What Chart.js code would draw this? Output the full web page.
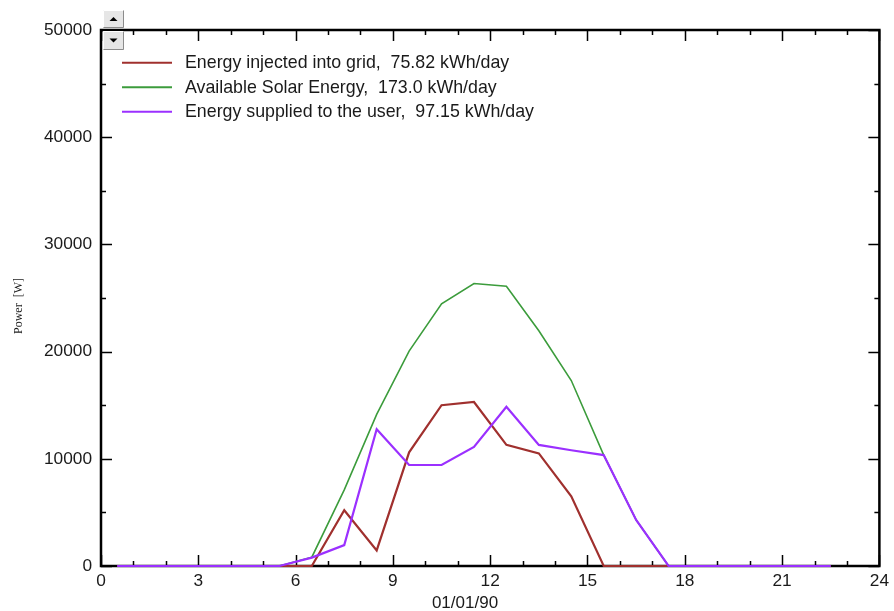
<!DOCTYPE html>
<html>
<head>
<meta charset="utf-8">
<script src="https://cdn.jsdelivr.net/npm/chart.js@4/dist/chart.umd.min.js"></script>
<style>
  html, body { margin: 0; padding: 0; background: #ffffff; }
  #wrap { position: relative; width: 894px; height: 611px; }
</style>
</head>
<body>
<div id="wrap"><canvas id="c" width="894" height="611"></canvas></div>
<script>
// ---- Data ----
const hours = [0.5,1.5,2.5,3.5,4.5,5.5,6.5,7.5,8.5,9.5,10.5,11.5,12.5,13.5,14.5,15.5,16.5,17.5,18.5,19.5,20.5,21.5,22.5];
const gridInjected = [0,0,0,0,0,0,0,5200,1450,10600,15000,15300,11300,10500,6500,0,0,0,0,0,0,0,0];
const solarAvailable = [0,0,0,0,0,0,820,7100,14150,20050,24450,26350,26100,21950,17300,10350,4300,0,0,0,0,0,0];
const userSupplied = [0,0,0,0,0,0,780,1950,12750,9420,9420,11100,14850,11300,10800,10350,4300,0,0,0,0,0,0];
const seriesLabels = [
  "Energy injected into grid,  75.82 kWh/day",
  "Available Solar Energy,  173.0 kWh/day",
  "Energy supplied to the user,  97.15 kWh/day"
];
const xTickValues = [0,3,6,9,12,15,18,21,24];
const yTickValues = [0,10000,20000,30000,40000,50000];
const xTitle = "01/01/90";
const yTitle = "Power  [W]";

const colors = ["#a0302e", "#3c9c3c", "#9b30ff"];

const toPts = arr => arr.map((v, i) => ({x: hours[i], y: v}));

const frameAndTicks = {
  id: 'frameAndTicks',
  beforeDatasetsDraw(chart) {
    const {ctx, chartArea: a, scales: {x, y}} = chart;
    ctx.save();
    ctx.strokeStyle = '#000';
    ctx.lineWidth = 1.5;
    ctx.beginPath();
    for (let h = 0; h <= 24; h++) {
      const px = Math.round(x.getPixelForValue(h)) + 0.5;
      const len = (h % 3 === 0) ? 11 : 5;
      ctx.moveTo(px, a.bottom); ctx.lineTo(px, a.bottom - len);
      ctx.moveTo(px, a.top); ctx.lineTo(px, a.top + len);
    }
    for (let v = 0; v <= 50000; v += 5000) {
      const py = Math.round(y.getPixelForValue(v)) + 0.5;
      const len = (v % 10000 === 0) ? 11 : 5;
      ctx.moveTo(a.left, py); ctx.lineTo(a.left + len, py);
      ctx.moveTo(a.right, py); ctx.lineTo(a.right - len, py);
    }
    ctx.stroke();
    ctx.lineWidth = 2.5;
    ctx.strokeRect(a.left, a.top, a.right - a.left, a.bottom - a.top);
    ctx.restore();
  },
  afterDraw(chart) {
    const {ctx} = chart;
    ctx.save();
    // legend
    ctx.font = '17.8px "Liberation Sans", Arial, sans-serif';
    ctx.textBaseline = 'middle';
    ctx.textAlign = 'left';
    chart.data.datasets.forEach((ds, i) => {
      const yy = 62.7 + i * 24.5;
      ctx.strokeStyle = ds.borderColor;
      ctx.lineWidth = 2;
      ctx.beginPath();
      ctx.moveTo(122, yy); ctx.lineTo(172, yy);
      ctx.stroke();
      ctx.fillStyle = '#1a1a1a';
      ctx.fillText(ds.label, 185, yy + 0.5);
    });
    // x title
    ctx.font = '17px "Liberation Sans", Arial, sans-serif';
    ctx.textAlign = 'center';
    ctx.fillStyle = '#1a1a1a';
    ctx.fillText(xTitle, 465, 603);
    // y title
    ctx.translate(19, 306);
    ctx.rotate(-Math.PI / 2);
    ctx.font = '12px "Liberation Serif", "Times New Roman", serif';
    ctx.fillText(yTitle, 0, 0);
    ctx.restore();

    // scroll buttons
    ctx.save();
    const drawBtn = (bx, by, w, h, up) => {
      ctx.fillStyle = '#e6e6e6';
      ctx.fillRect(bx, by, w, h);
      ctx.strokeStyle = '#ffffff';
      ctx.lineWidth = 1;
      ctx.beginPath();
      ctx.moveTo(bx + 0.5, by + h - 0.5); ctx.lineTo(bx + 0.5, by + 0.5); ctx.lineTo(bx + w - 0.5, by + 0.5);
      ctx.stroke();
      ctx.strokeStyle = '#8c8c8c';
      ctx.beginPath();
      ctx.moveTo(bx + w - 0.5, by + 0.5); ctx.lineTo(bx + w - 0.5, by + h - 0.5); ctx.lineTo(bx + 0.5, by + h - 0.5);
      ctx.stroke();
      const cx = bx + w / 2, cy = by + h / 2;
      ctx.fillStyle = '#000';
      ctx.beginPath();
      if (up) { ctx.moveTo(cx - 4, cy + 2); ctx.lineTo(cx + 4, cy + 2); ctx.lineTo(cx, cy - 2); }
      else { ctx.moveTo(cx - 4, cy - 2); ctx.lineTo(cx + 4, cy - 2); ctx.lineTo(cx, cy + 2); }
      ctx.closePath();
      ctx.fill();
    };
    drawBtn(103, 10, 21, 18, true);
    drawBtn(103, 31, 21, 19, false);
    ctx.restore();
  }
};

new Chart(document.getElementById('c'), {
  type: 'line',
  data: {
    datasets: [
      { label: seriesLabels[0], data: toPts(gridInjected), borderColor: colors[0], borderWidth: 2.2, pointRadius: 0, tension: 0, order: 1, clip: 6 },
      { label: seriesLabels[1], data: toPts(solarAvailable), borderColor: colors[1], borderWidth: 1.6, pointRadius: 0, tension: 0, order: 2, clip: 6 },
      { label: seriesLabels[2], data: toPts(userSupplied), borderColor: colors[2], borderWidth: 2.2, pointRadius: 0, tension: 0, order: 0, clip: 6 }
    ]
  },
  options: {
    responsive: false,
    animation: false,
    layout: { padding: { top: 30, right: 13, left: 0, bottom: 0 } },
    plugins: { legend: { display: false }, tooltip: { enabled: false } },
    scales: {
      x: {
        type: 'linear', min: 0, max: 24,
        afterFit: s => { s.height = 45; },
        afterBuildTicks: s => { s.ticks = xTickValues.map(v => ({value: v})); },
        grid: { display: false, drawTicks: false },
        border: { display: false },
        ticks: { padding: 5, color: '#1a1a1a', font: { family: '"Liberation Sans", Arial, sans-serif', size: 17.3 }, maxRotation: 0, autoSkip: false }
      },
      y: {
        type: 'linear', min: 0, max: 50000,
        afterFit: s => { s.width = 101; },
        afterBuildTicks: s => { s.ticks = yTickValues.map(v => ({value: v})); },
        grid: { display: false, drawTicks: false },
        border: { display: false },
        ticks: { padding: 9, color: '#1a1a1a', font: { family: '"Liberation Sans", Arial, sans-serif', size: 17.3 }, callback: v => String(v) }
      }
    }
  },
  plugins: [frameAndTicks]
});
</script>
</body>
</html>
